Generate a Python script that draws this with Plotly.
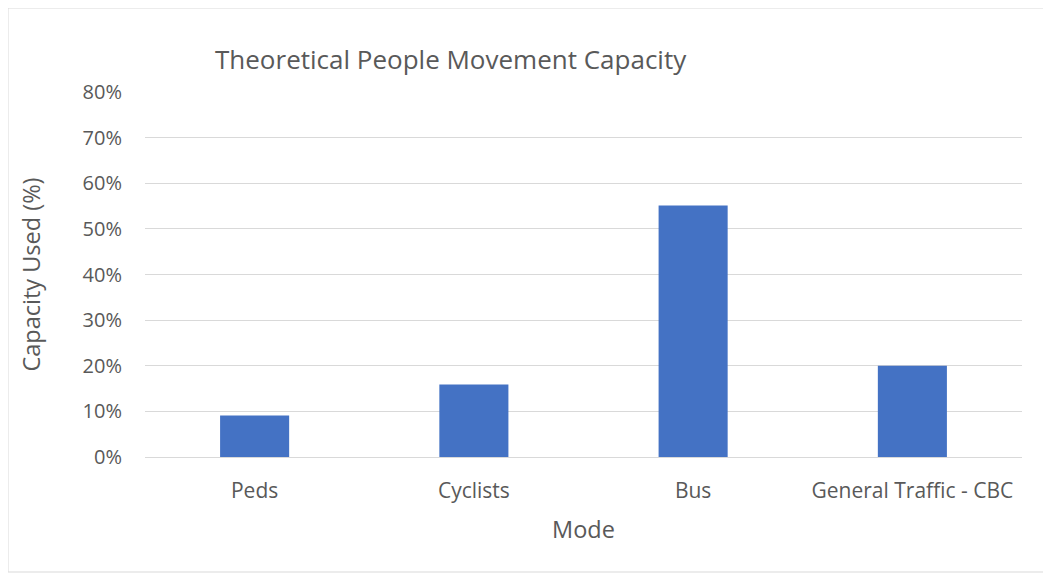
import plotly.graph_objects as go

categories = ["Peds", "Cyclists", "Bus", "General Traffic - CBC"]
capacity_used = [0.091, 0.159, 0.551, 0.20]
y_ticks = [0, 0.1, 0.2, 0.3, 0.4, 0.5, 0.6, 0.7, 0.8]

# page has an 8px body margin; figure coordinates = screen coordinates - 8
OFF = 8
W, H = 1051, 575
L, T = 145 - OFF, 92 - OFF
R = W - (1022 - OFF)
B = H - (457 - OFF)
pw, ph = W - L - R, H - T - B

txt = "#595959"
font_family = "Open Sans, Liberation Sans, sans-serif"

fig = go.Figure(go.Bar(x=categories, y=capacity_used,
                       marker=dict(color="#4472C4", line=dict(width=0)), width=0.315))

fig.update_layout(
    width=W, height=H,
    margin=dict(l=L, r=R, t=T, b=B, autoexpand=False),
    paper_bgcolor="white", plot_bgcolor="white",
    font=dict(family=font_family, color=txt),
    showlegend=False,
    title=dict(text="Theoretical People Movement Capacity", xref="container", yref="container",
               x=(215 - OFF) / W, xanchor="left", y=1 - (60 - OFF) / H, yanchor="middle",
               font=dict(size=26, color=txt, family=font_family)),
    xaxis=dict(showgrid=False, showline=False, zeroline=False, ticks="",
               tickfont=dict(size=21, color=txt), ticklabelstandoff=19,
               title=dict(text="Mode", font=dict(size=23.5, color=txt), standoff=18)),
    yaxis=dict(range=[0, 0.8], tickvals=y_ticks, tickformat=".0%", showgrid=True,
               gridcolor="#D9D9D9", gridwidth=1, zeroline=True, zerolinecolor="#D9D9D9", zerolinewidth=1,
               showline=False, ticks="", tickfont=dict(size=20, color=txt), ticklabelstandoff=22,
               title=dict(text="Capacity Used (%)", font=dict(size=23.5, color=txt), standoff=35)),
)

# outer chart border
x0 = (8 - OFF - L) / pw
x1 = (1048 - OFF - L) / pw
y1 = (H - B - 0) / ph
y0 = (H - B - (572 - OFF)) / ph
fig.add_shape(type="rect", xref="paper", yref="paper", x0=x0, x1=x1, y0=y0, y1=y1,
              line=dict(color="#D9D9D9", width=1), fillcolor="rgba(0,0,0,0)", layer="below")

fig.write_html("out.html")
